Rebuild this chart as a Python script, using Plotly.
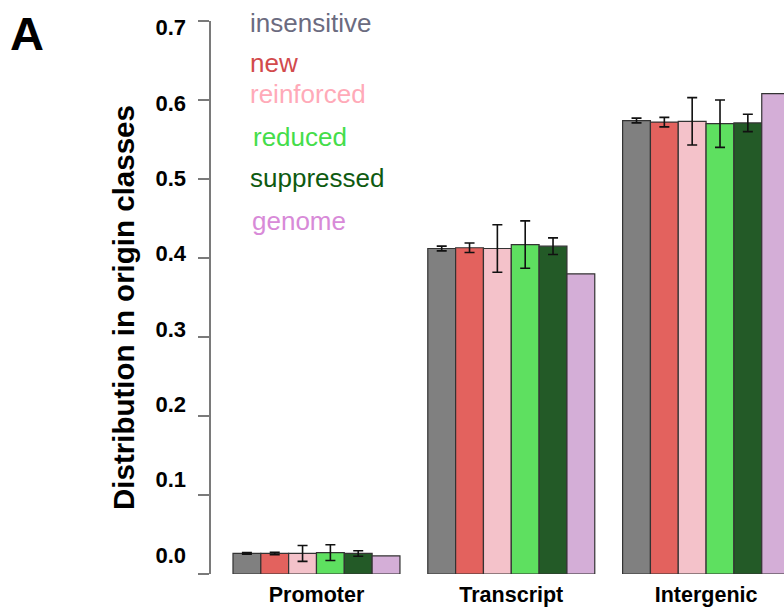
import plotly.graph_objects as go

# Origin classes (x groups) and response classes (bars within each group)
categories = ["Promoter", "Transcript", "Intergenic"]
series_names = ["insensitive", "new", "reinforced", "reduced", "suppressed", "genome"]

# Fraction of each response class falling in each origin class
insensitive = [0.026, 0.412, 0.574]
new = [0.026, 0.413, 0.572]
reinforced = [0.026, 0.412, 0.573]
reduced = [0.027, 0.417, 0.570]
suppressed = [0.026, 0.415, 0.571]
genome = [0.023, 0.380, 0.608]

# Error bar half-widths
insensitive_err = [0.001, 0.003, 0.003]
new_err = [0.0015, 0.006, 0.006]
reinforced_err = [0.010, 0.030, 0.030]
reduced_err = [0.010, 0.030, 0.030]
suppressed_err = [0.0035, 0.0105, 0.011]
genome_err = [0.0, 0.0, 0.0]

y_ticks = [0.0, 0.1, 0.2, 0.3, 0.4, 0.5, 0.6, 0.7]

values = [insensitive, new, reinforced, reduced, suppressed, genome]
errors = [insensitive_err, new_err, reinforced_err, reduced_err, suppressed_err, genome_err]
bar_colors = ["#808080", "#e3625e", "#f4c2ca", "#5ee060", "#235a27", "#d4aed7"]
text_colors = ["#6b6b80", "#d24a4c", "#ffaab8", "#44dd4a", "#0e5a10", "#d88ad8"]

FONT = "Liberation Sans, Arial, sans-serif"
W, H = 784, 610
L, R, T, B = 211, 0, 21, 36
plot_w = W - L - R
plot_h = H - T - B

n_series = len(series_names)
group_step = n_series + 1  # one empty bar slot between groups

fig = go.Figure()
for s, name in enumerate(series_names):
    xs = [g * group_step + s for g in range(len(categories))]
    has_err = any(e > 0 for e in errors[s])
    fig.add_trace(go.Bar(
        x=xs, y=values[s], width=1.0, name=name,
        marker=dict(color=bar_colors[s], line=dict(color="#333333", width=1.2)),
        error_y=dict(type="data", array=errors[s], visible=has_err,
                     color="#111111", thickness=1.6, width=5),
        showlegend=False,
    ))

# carrier trace for the tick-label axis
fig.add_trace(go.Scatter(x=[None], y=[None], yaxis="y2", showlegend=False,
                         hoverinfo="skip"))

# bar width in pixels is 27.83; first bar centre at 246.9 px
unit = 27.83
x0_px = 246.9
x_range = [(L - x0_px) / unit, (W - R - x0_px) / unit]

group_centers = [g * group_step + (n_series - 1) / 2 for g in range(len(categories))]

fig.update_layout(
    width=W, height=H,
    margin=dict(l=L, r=R, t=T, b=B),
    paper_bgcolor="white", plot_bgcolor="white",
    barmode="overlay",
    font=dict(family=FONT, color="black"),
    xaxis=dict(
        range=x_range, showline=False, showgrid=False, zeroline=False,
        tickmode="array", tickvals=group_centers, ticktext=categories,
        ticks="", tickfont=dict(size=21.5, family=FONT, weight="bold", color="black"),
        ticklabelstandoff=5,
    ),
    yaxis=dict(
        range=[0, 0.7], showgrid=False, zeroline=False,
        showline=True, linecolor="#7a7a7a", linewidth=1.5,
        ticks="outside", ticklen=11, tickcolor="#7a7a7a", tickwidth=1.5,
        tickmode="array", tickvals=y_ticks, showticklabels=False,
    ),
    yaxis2=dict(
        overlaying="y", side="left",
        range=[-0.0252, 0.7086], showgrid=False, zeroline=False, showline=False,
        ticks="", tickmode="array", tickvals=y_ticks,
        ticktext=[f"{v:.1f}" for v in y_ticks],
        tickfont=dict(size=22, family=FONT, weight="bold", color="black"),
        ticklabelstandoff=24,
    ),
)


def px_to_paper(px, py):
    return (px - L) / plot_w, (H - B - py) / plot_h


annotations = []

# colour-coded key
key_pos = [(248, 23), (248, 63), (248, 94), (251, 137), (248, 178), (250, 221)]
for name, col, (px, py) in zip(series_names, text_colors, key_pos):
    xp, yp = px_to_paper(px, py)
    annotations.append(dict(
        x=xp, y=yp, xref="paper", yref="paper", xanchor="left", yanchor="middle",
        text=name, showarrow=False, font=dict(size=26, family=FONT, color=col),
    ))

# y-axis title
xp, yp = px_to_paper(123, 308)
annotations.append(dict(
    x=xp, y=yp, xref="paper", yref="paper", xanchor="center", yanchor="middle",
    text="Distribution in origin classes", textangle=-90, showarrow=False,
    font=dict(size=29.5, family=FONT, weight="bold", color="black"),
))

# panel letter
xp, yp = px_to_paper(27, 34)
annotations.append(dict(
    x=xp, y=yp, xref="paper", yref="paper", xanchor="center", yanchor="middle",
    text="A", showarrow=False,
    font=dict(size=47, family=FONT, weight="bold", color="black"),
))

fig.update_layout(annotations=annotations)
fig.write_html("out.html")
